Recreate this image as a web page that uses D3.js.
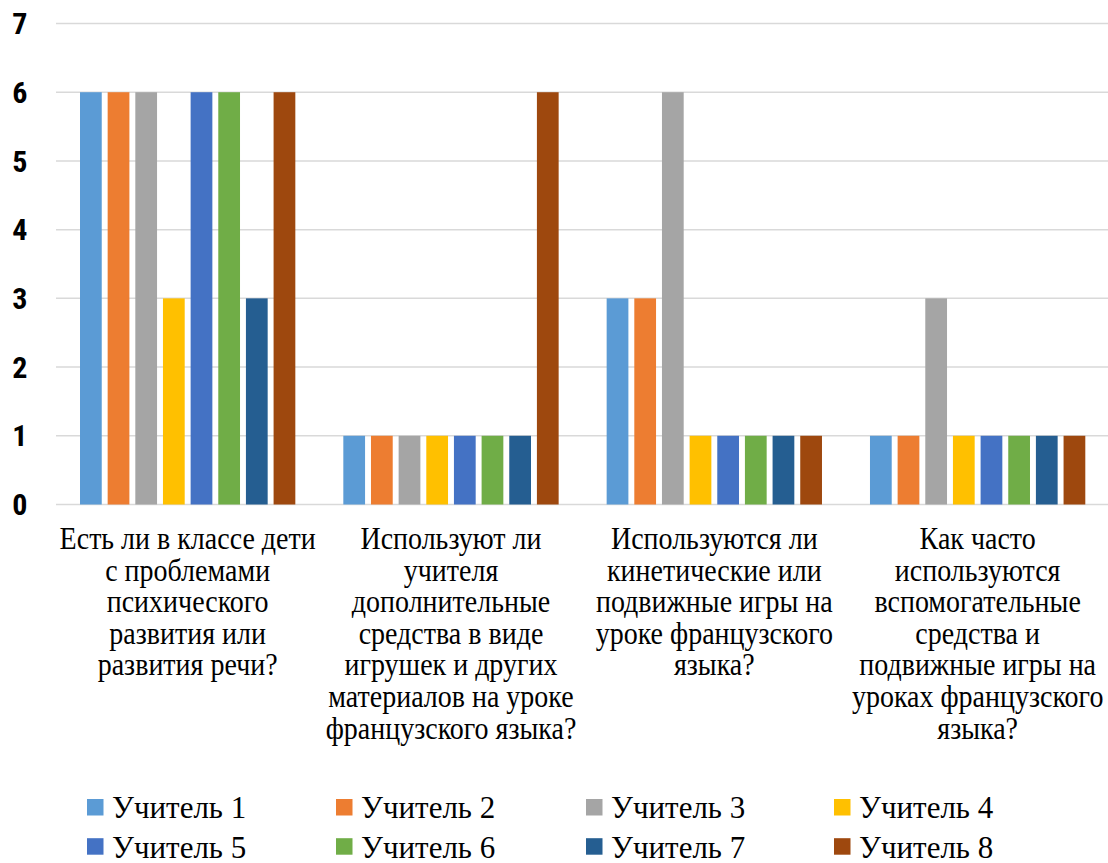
<!DOCTYPE html>
<html><head><meta charset="utf-8">
<script src="https://cdn.jsdelivr.net/npm/d3@7"></script>
<style>body{margin:0;background:#fff}svg{display:block}</style>
</head><body>
<script>
const categories = [
  ["Есть ли в классе дети","с проблемами","психического","развития или","развития речи?"],
  ["Используют ли","учителя","дополнительные","средства в виде","игрушек и других","материалов на уроке","французского языка?"],
  ["Используются ли","кинетические или","подвижные игры на","уроке французского","языка?"],
  ["Как часто","используются","вспомогательные","средства и","подвижные игры на","уроках французского","языка?"]
];
const seriesNames = ["Учитель 1","Учитель 2","Учитель 3","Учитель 4","Учитель 5","Учитель 6","Учитель 7","Учитель 8"];
const q1 = [6,6,6,3,6,6,3,6];
const q2 = [1,1,1,1,1,1,1,6];
const q3 = [3,3,6,1,1,1,1,1];
const q4 = [1,1,3,1,1,1,1,1];
const yTicks = [0,1,2,3,4,5,6,7];
const colors = ["#5B9BD5","#ED7D31","#A5A5A5","#FFC000","#4472C4","#70AD47","#255E91","#9E480E"];

const values = [q1,q2,q3,q4];
const W = 1108, H = 863;
const serif = '"Liberation Serif", "Times New Roman", serif';
const svg = d3.select("body").append("svg").attr("width",W).attr("height",H);

const x0 = d3.scaleBand().domain(d3.range(categories.length)).range([56,1109.3]).padding(0);
const x1 = d3.scaleBand().domain(d3.range(seriesNames.length)).range([24, x0.bandwidth()-24]).paddingInner(0.214).paddingOuter(0);
const y = d3.scaleLinear().domain([0,7]).range([504.5,23.5]);

// gridlines
svg.append("g").selectAll("line").data(yTicks).join("line")
  .attr("x1",56).attr("x2",1108)
  .attr("y1",d=>y(d)).attr("y2",d=>y(d))
  .attr("stroke","#d9d9d9").attr("stroke-width",1.5);

// y labels
svg.append("g").selectAll("text").data(yTicks).join("text")
  .attr("x",27.5).attr("y",d=>y(d)+10.7)
  .attr("text-anchor","end")
  .style("font-family",'"Roboto Condensed", "DejaVu Sans Condensed", sans-serif')
  .style("font-weight","bold").style("font-size","30px").attr("fill","#000")
  .text(d=>d);

// bars
const groups = svg.append("g").selectAll("g").data(values).join("g")
  .attr("transform",(d,i)=>`translate(${x0(i)},0)`);
groups.selectAll("rect").data(d=>d).join("rect")
  .attr("x",(d,j)=>x1(j)).attr("width",x1.bandwidth())
  .attr("y",d=>y(d)).attr("height",d=>y(0)-y(d))
  .attr("fill",(d,j)=>colors[j]);

// category labels
const catG = svg.append("g").selectAll("g").data(categories).join("g");
catG.each(function(lines,i){
  d3.select(this).selectAll("text").data(lines).join("text")
    .attr("text-anchor","middle")
    .attr("transform",(d,k)=>`translate(${x0(i)+x0.bandwidth()/2},${549+k*31.6}) scale(1,1.15)`)
    .style("font-family",serif)
    .style("font-size","28px").attr("fill","#000")
    .text(d=>d);
});

// legend
const legX = [87,336,586,834];
const legY = [818.3,857.5];
const leg = svg.append("g").selectAll("g").data(seriesNames).join("g")
  .attr("transform",(d,i)=>`translate(${legX[i%4]},${legY[Math.floor(i/4)]})`);
leg.append("rect").attr("x",0).attr("y",-19.3).attr("width",16.5).attr("height",16.5).attr("fill",(d,i)=>colors[i]);
leg.append("text").attr("transform","translate(25,0) scale(1,1.03)")
  .style("font-family",serif)
  .style("font-size","31px").attr("fill","#000").text(d=>d);
</script>
</body></html>
